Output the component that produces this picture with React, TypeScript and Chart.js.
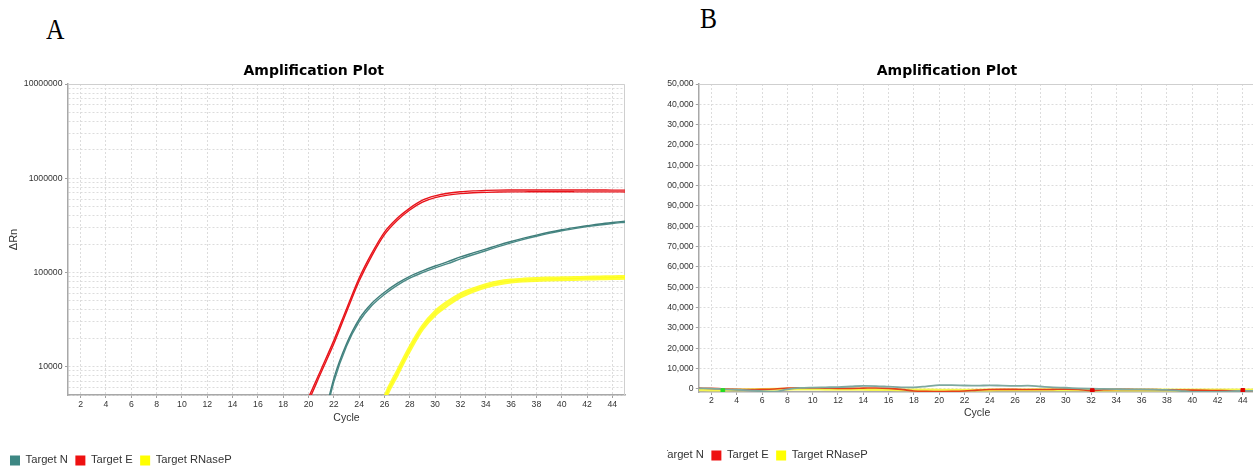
import React, { useEffect, useRef } from 'react';
import { Chart, registerables } from 'chart.js';

Chart.register(...registerables);
Chart.defaults.font.family = '"Liberation Sans", Arial, sans-serif';

// ---------- shared ----------
const chartTitle = 'Amplification Plot';
const xTitle = 'Cycle';
const yTitleA = 'ΔRn';
const legendLabels = ['Target N', 'Target E', 'Target RNaseP'];
const legendColors = ['#3d8783', '#ee1111', '#ffff00'];
const cycleTicks = [2, 4, 6, 8, 10, 12, 14, 16, 18, 20, 22, 24, 26, 28, 30, 32, 34, 36, 38, 40, 42, 44];

// ---------- Panel A (log ΔRn) ----------
const yMajorA = [10000, 100000, 1000000, 10000000];
const yDecadesA = [1000, 10000, 100000, 1000000];
const startE_A = 19;
const targetE_A1 = [2400, 4700, 9400, 19000, 41000, 87000, 160000, 268000, 375000, 482000, 585000, 650000, 692000, 718000, 733000, 742000, 748000, 750000, 751000, 751000, 751000, 750000, 750000, 749000, 749000, 748000, 748000];
const targetE_A2 = [2200, 4300, 8700, 17500, 38000, 81000, 150000, 252000, 356000, 460000, 558000, 622000, 662000, 686000, 700000, 708000, 713000, 716000, 717000, 718000, 718000, 718000, 717000, 717000, 716000, 716000, 715000];
const startN_A = 21;
const targetN_A1 = [2100, 7500, 17500, 32000, 47000, 61500, 76500, 91000, 104000, 117000, 130000, 146000, 161000, 177000, 195000, 213000, 231000, 249000, 267000, 284000, 299000, 313000, 327000, 339000, 350000];
const targetN_A2 = [1900, 6900, 16500, 30000, 44500, 58500, 73000, 87000, 99500, 112000, 124000, 139000, 154000, 170000, 188000, 206000, 224000, 242000, 260000, 277000, 292000, 306000, 319000, 331000, 341000];
const startR_A = 25;
const targetR_A1 = [1600, 4700, 8900, 16200, 27000, 38500, 49000, 59000, 67000, 74000, 79500, 83000, 85000, 86300, 87100, 87700, 88300, 88900, 89500, 90100, 90700];
const targetR_A2 = [1400, 4300, 8100, 14800, 25000, 35500, 45000, 55000, 63000, 70000, 75500, 79000, 81000, 82300, 83100, 83700, 84300, 84900, 85500, 86100, 86700];

// ---------- Panel B (linear ΔRn, no amplification) ----------
const yTicksB = [0, 10000, 20000, 30000, 40000, 50000, 60000, 70000, 80000, 90000, 100000, 110000, 120000, 130000, 140000, 150000];
const startB = 1;
const targetN_B = [300, 200, -200, -400, -700, -1100, -1300, -200, 500, 700, 800, 900, 1200, 1500, 1400, 1100, 800, 800, 1300, 1900, 1900, 1700, 1600, 1800, 1600, 1500, 1600, 1200, 800, 600, 300, 100, 0, -100, -200, -200, -300, -500, -900, -1400, -1500, -1400, -1200, -1000, -900];
const targetE_B = [400, 300, 0, -200, -300, -200, 0, 400, 600, 500, 400, 300, 300, 400, 500, 300, -200, -1000, -1200, -1300, -1200, -1000, -600, -300, -200, -200, -300, -300, -200, -100, -300, -800, -400, -200, -200, -300, -300, -400, -500, -600, -700, -800, -900, -1100, -900];
const targetR_B1 = [-200, -300, -300, -300, -200, -100, 0, 100, 200, 200, 200, 100, 0, 0, -100, -200, -300, -300, -300, -400, -400, -400, -400, -300, -300, -300, -300, -200, -200, -200, -200, -300, -300, -300, -300, -300, -300, -300, -300, -300, -300, -300, -300, -300, -300];
const targetR_B2 = [-600, -700, -700, -600, -500, -400, -300, -300, -200, -200, -300, -300, -400, -400, -500, -500, -600, -700, -700, -700, -700, -700, -700, -700, -600, -600, -600, -600, -600, -600, -600, -700, -700, -700, -700, -700, -700, -700, -700, -700, -700, -700, -700, -700, -700];
const markerGreenX = [2.9];
const markerGreenY = [-800];
const markerRedX = [32.1, 44];
const markerRedY = [-800, -700];

const toPoints = (start: number, vals: number[]) => vals.map((v, i) => ({ x: start + i, y: v }));
const pairs = (xs: number[], ys: number[]) => xs.map((x, i) => ({ x, y: ys[i] }));

const lineDs = (label: string, data: any[], color: string, width: number) => ({
  label,
  data,
  borderColor: color,
  backgroundColor: color,
  borderWidth: width,
  pointRadius: 0,
  cubicInterpolationMode: 'monotone',
  clip: 0,
});

const framePlugin = {
  id: 'frame',
  beforeDatasetsDraw(chart: any) {
    const { ctx, chartArea } = chart;
    const { left, top, right, bottom } = chartArea;
    ctx.save();
    ctx.strokeStyle = '#cfcfcf';
    ctx.lineWidth = 1;
    ctx.setLineDash([]);
    ctx.beginPath();
    ctx.moveTo(left, top + 0.5);
    ctx.lineTo(right - 0.5, top + 0.5);
    ctx.lineTo(right - 0.5, bottom);
    ctx.stroke();
    ctx.restore();
  },
};

const legendOpts = {
  display: true,
  position: 'bottom',
  align: 'start',
  labels: {
    boxWidth: 10,
    boxHeight: 10,
    padding: 7.5,
    color: '#333',
    font: { size: 11.2 },
    generateLabels: () =>
      legendLabels.map((t, i) => ({
        text: t,
        fillStyle: legendColors[i],
        strokeStyle: legendColors[i],
        lineWidth: 0,
        hidden: false,
        datasetIndex: i,
        fontColor: '#333',
      })),
  },
};

const titleOpts = {
  display: true,
  text: chartTitle,
  color: '#000',
  font: { family: '"DejaVu Sans", sans-serif', size: 14, weight: 'bold' },
  padding: { top: 22.6, bottom: 4.6 },
};

const tickFont = { size: 8.7 };

function configA() {
  const gridTicks: number[] = [];
  yDecadesA.forEach((d) => [1, 2, 3, 4, 5, 6, 7, 8, 9].forEach((s) => gridTicks.push(d * s)));
  gridTicks.push(10000000);
  const yGrid = gridTicks.filter((v) => v >= 5000 && v <= 10000000);
  return {
    type: 'line',
    data: {
      datasets: [
        lineDs('Target N', toPoints(startN_A, targetN_A1), '#3f7e7b', 1.4),
        lineDs('Target N', toPoints(startN_A, targetN_A2), '#4a8a86', 1.4),
        lineDs('Target E', toPoints(startE_A, targetE_A1), '#e8131a', 1.4),
        lineDs('Target E', toPoints(startE_A, targetE_A2), '#e8131a', 1.4),
        lineDs('Target RNaseP', toPoints(startR_A, targetR_A1), 'rgba(255,255,20,0.85)', 3),
        lineDs('Target RNaseP', toPoints(startR_A, targetR_A2), 'rgba(255,255,20,0.85)', 3),
      ],
    },
    options: {
      responsive: false,
      animation: false,
      layout: { padding: { left: 2.5, right: 5, top: 0, bottom: 0 } },
      plugins: { title: titleOpts, legend: legendOpts, tooltip: { enabled: false } },
      scales: {
        x: {
          type: 'linear',
          min: 1,
          max: 45,
          afterBuildTicks: (s: any) => {
            s.ticks = cycleTicks.map((v) => ({ value: v }));
          },
          afterFit: (s: any) => {
            s.height = 52.3;
          },
          ticks: { autoSkip: false, maxRotation: 0, padding: 1, color: '#333', font: tickFont },
          grid: { color: '#dcdcdc', tickLength: 3, tickColor: '#a0a0a0' },
          border: { color: '#a8a8a8', width: 1.5, dash: [2, 2] },
          title: { display: true, text: xTitle, color: '#333', font: { size: 10.5 }, padding: { top: 0, bottom: 23 } },
        },
        y: {
          type: 'logarithmic',
          min: 5000,
          max: 10000000,
          afterBuildTicks: (s: any) => {
            s.ticks = yGrid.map((v) => ({ value: v }));
          },
          afterFit: (s: any) => {
            s.width = 65.5;
          },
          ticks: {
            autoSkip: false,
            padding: 2.5,
            color: '#333',
            font: tickFont,
            callback: (v: any) => (yMajorA.includes(Number(v)) ? String(v) : ''),
          },
          grid: {
            color: '#dcdcdc',
            tickLength: 3,
            tickColor: (c: any) => (c.tick && yMajorA.includes(c.tick.value) ? '#a0a0a0' : 'rgba(0,0,0,0)'),
          },
          border: { color: '#a8a8a8', width: 1.5, dash: [2, 2] },
          title: { display: true, text: yTitleA, color: '#333', font: { size: 11 }, padding: { top: 5, bottom: 0 } },
        },
      },
    },
    plugins: [framePlugin],
  };
}

function configB() {
  return {
    type: 'line',
    data: {
      datasets: [
        {
          label: '',
          data: pairs(markerGreenX, markerGreenY),
          showLine: false,
          pointStyle: 'rect',
          pointRadius: 2.6,
          pointBackgroundColor: '#22dd22',
          pointBorderColor: '#22dd22',
          clip: 0,
        },
        {
          label: '',
          data: pairs(markerRedX, markerRedY),
          showLine: false,
          pointStyle: 'rect',
          pointRadius: 2.6,
          pointBackgroundColor: '#e00000',
          pointBorderColor: '#e00000',
          clip: 0,
        },
        lineDs('Target N', toPoints(startB, targetN_B), '#7ea89f', 1.8),
        lineDs('Target E', toPoints(startB, targetE_B), '#e2401c', 1.6),
        lineDs('Target RNaseP', toPoints(startB, targetR_B1), 'rgba(245,245,70,0.9)', 2.2),
        lineDs('Target RNaseP', toPoints(startB, targetR_B2), 'rgba(245,245,70,0.9)', 2.2),
      ],
    },
    options: {
      responsive: false,
      animation: false,
      layout: { padding: { left: 0.5, right: 12.5, top: 0, bottom: 0 } },
      plugins: { title: titleOpts, legend: legendOpts, tooltip: { enabled: false } },
      scales: {
        x: {
          type: 'linear',
          min: 1,
          max: 45,
          afterBuildTicks: (s: any) => {
            s.ticks = cycleTicks.map((v) => ({ value: v }));
          },
          afterFit: (s: any) => {
            s.height = 50.3;
          },
          ticks: { autoSkip: false, maxRotation: 0, padding: 0, color: '#333', font: tickFont },
          grid: { color: '#dcdcdc', tickLength: 3, tickColor: '#a0a0a0' },
          border: { color: '#a8a8a8', width: 1.5, dash: [2, 2] },
          title: { display: true, text: xTitle, color: '#333', font: { size: 10.5 }, padding: { top: 0, bottom: 22.7 } },
        },
        y: {
          type: 'linear',
          min: -1500,
          max: 150000,
          afterBuildTicks: (s: any) => {
            s.ticks = yTicksB.map((v) => ({ value: v }));
          },
          afterFit: (s: any) => {
            s.width = 60.3;
          },
          ticks: {
            autoSkip: false,
            padding: 2.1,
            color: '#333',
            font: tickFont,
            callback: (v: any) => Number(v).toLocaleString('en-US'),
          },
          grid: { color: '#dcdcdc', tickLength: 3, tickColor: '#a0a0a0' },
          border: { color: '#a8a8a8', width: 1.5, dash: [2, 2] },
        },
      },
    },
    plugins: [framePlugin],
  };
}

function ChartCanvas({ make, width, height, left, top }: any) {
  const ref = useRef<HTMLCanvasElement>(null);
  useEffect(() => {
    const chart = new Chart(ref.current as HTMLCanvasElement, make() as any);
    return () => chart.destroy();
  }, []);
  return (
    <canvas
      ref={ref}
      width={width}
      height={height}
      style={{ position: 'absolute', left, top, width, height }}
    />
  );
}

const panelLetter: React.CSSProperties = {
  position: 'absolute',
  fontFamily: '"Liberation Serif", "Times New Roman", serif',
  fontSize: 30,
  lineHeight: 1,
  color: '#000',
  transform: 'scaleX(0.85)',
  transformOrigin: 'left top',
};

const clipLeftB = 667;

export default function App() {
  return (
    <div style={{ position: 'absolute', left: 0, top: 0, width: 1253, height: 466, overflow: 'hidden', background: '#fff' }}>
      <div style={{ ...panelLetter, left: 46, top: 14 }}>A</div>
      <div style={{ ...panelLetter, left: 700, top: 3 }}>B</div>
      <ChartCanvas make={configA} width={630} height={436} left={0} top={40} />
      <div style={{ position: 'absolute', left: clipLeftB, top: 0, width: 1253 - clipLeftB, height: 466, overflow: 'hidden' }}>
        <ChartCanvas make={configB} width={630} height={431} left={637.5 - clipLeftB} top={40} />
      </div>
    </div>
  );
}
